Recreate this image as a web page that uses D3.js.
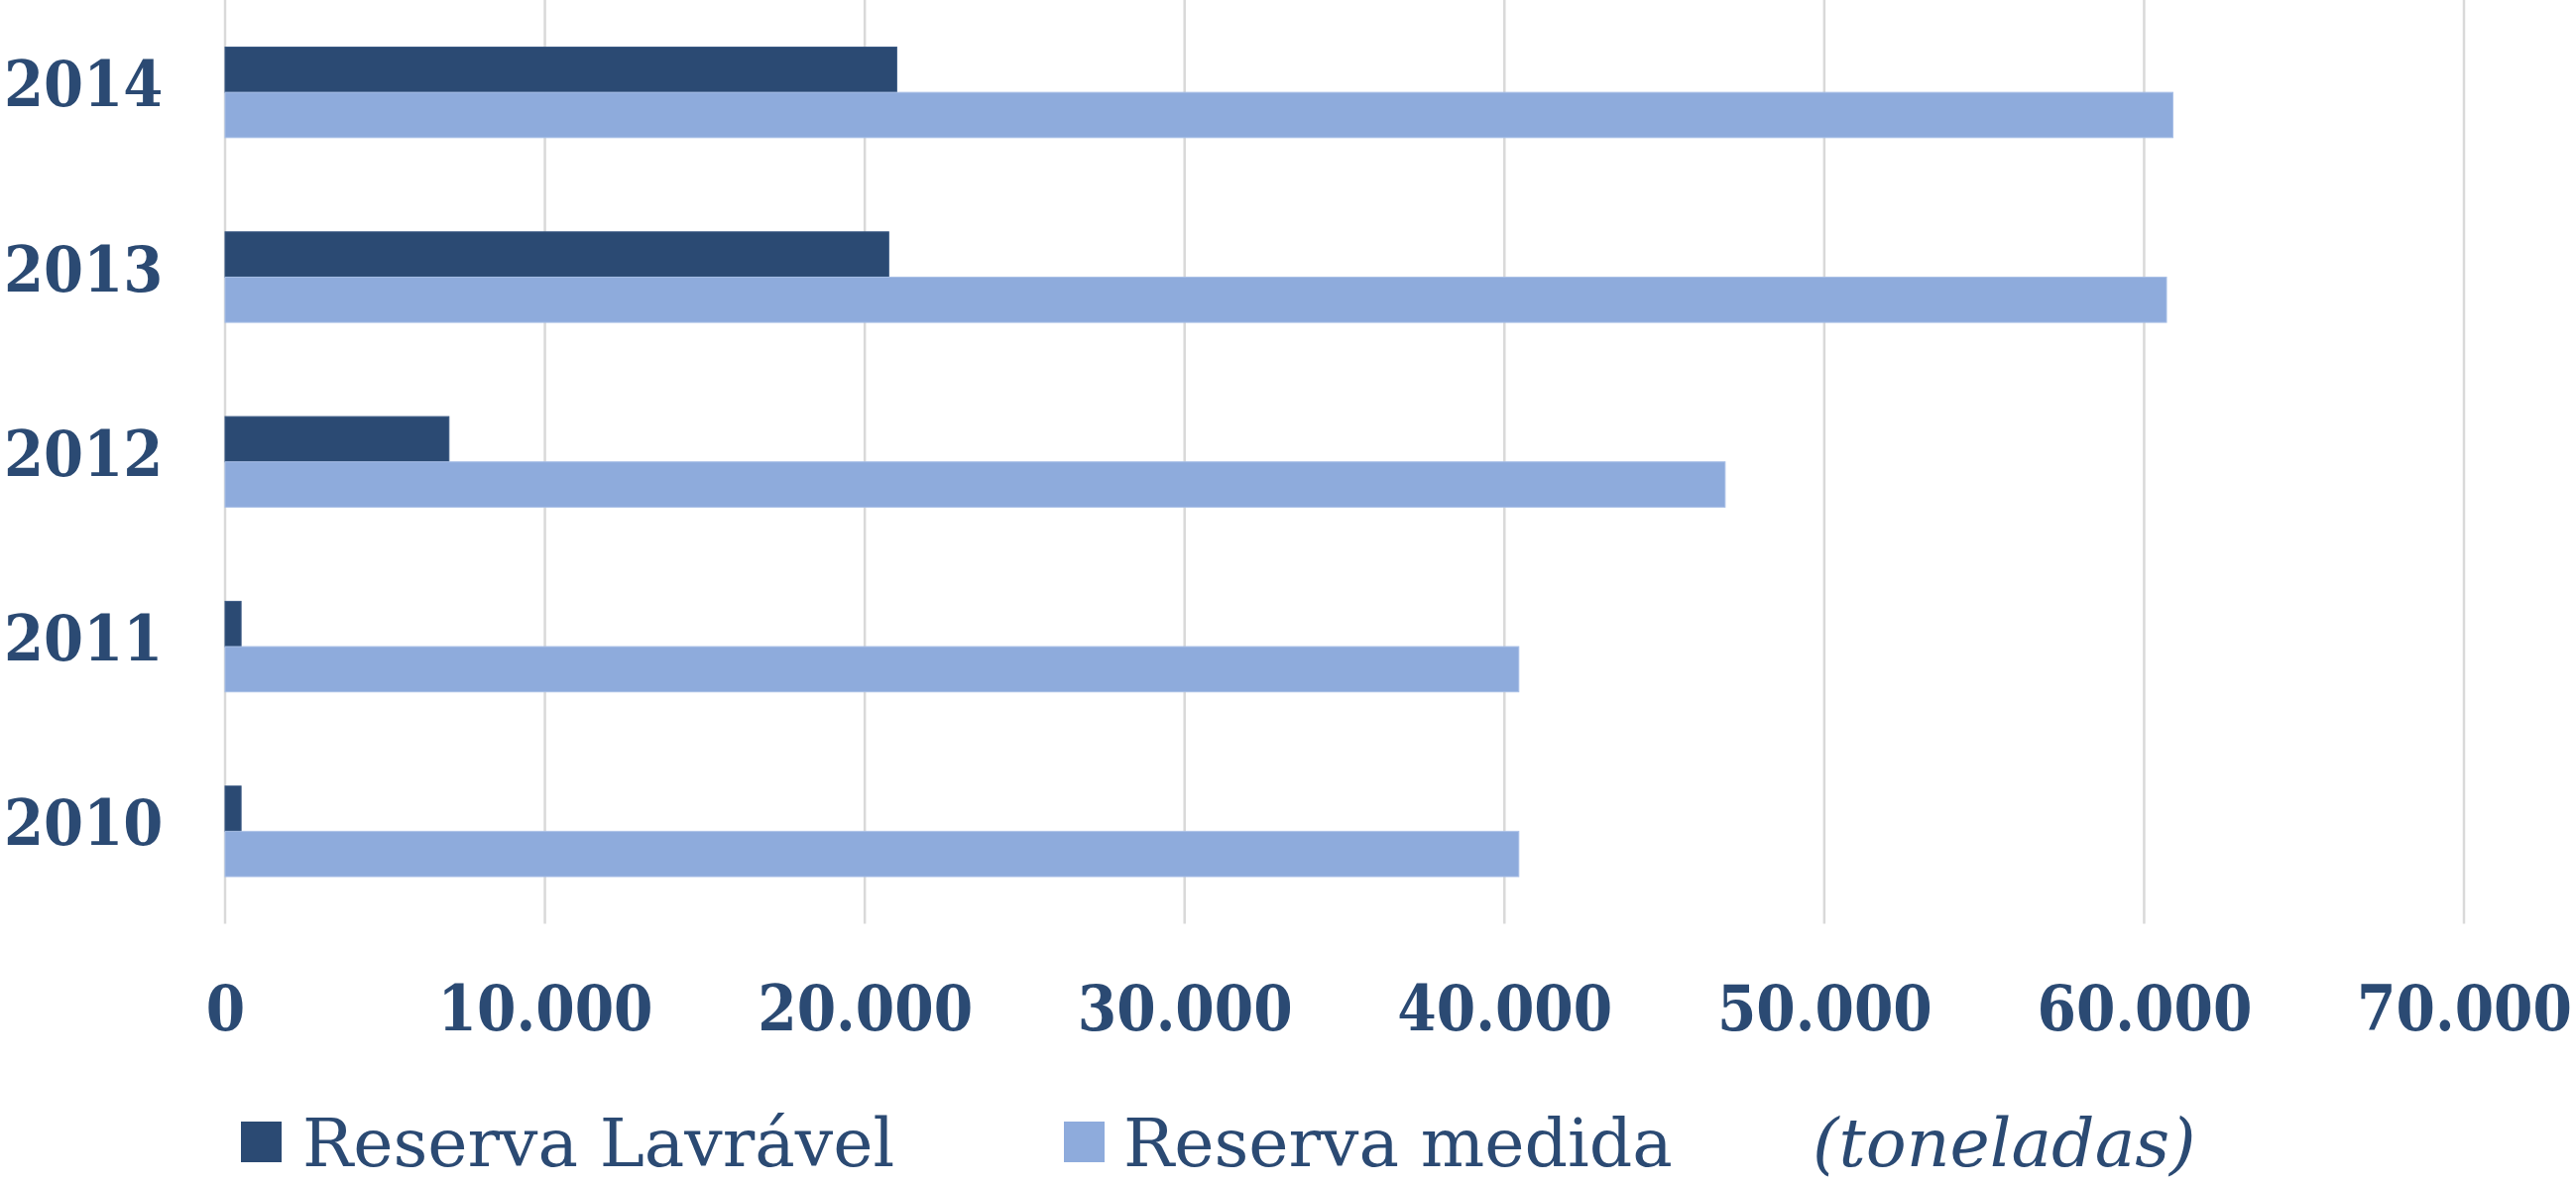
<!DOCTYPE html>
<html>
<head>
<meta charset="utf-8">
<script src="https://cdn.jsdelivr.net/npm/d3@7"></script>
<style>
  html, body { margin: 0; padding: 0; background: #ffffff; }
  svg { display: block; }
</style>
</head>
<body>
<svg id="chart" width="2598" height="1198"></svg>
<script>
// ---- Data ----
const years = ["2014", "2013", "2012", "2011", "2010"];
const reservaLavravel = [21000, 20750, 7000, 500, 500];
const reservaMedida = [60900, 60700, 46900, 40450, 40450];
const seriesNames = ["Reserva Lavrável", "Reserva medida"];
const xTickValues = [0, 10000, 20000, 30000, 40000, 50000, 60000, 70000];
const unitLabel = "(toneladas)";

// ---- Styles ----
const darkBlue = "#2b4a73";
const lightBlue = "#8eabdc";
const textColor = "#2b4a73";
const gridColor = "#d9d9d9";
const boldFont = "'DejaVu Serif Condensed', 'DejaVu Serif', serif";

const svg = d3.select("#chart");

const plotTop = 0, plotBottom = 931.5;
const x = d3.scaleLinear().domain([0, 70000]).range([227, 2485]);
const y = d3.scaleBand().domain(years).range([plotTop, plotBottom])
  .paddingInner(0.51).paddingOuter(0.255);
const ySub = d3.scaleBand().domain(seriesNames).range([0, y.bandwidth()]);
const color = d3.scaleOrdinal().domain(seriesNames).range([darkBlue, lightBlue]);

const ptBR = d3.formatLocale({ decimal: ",", thousands: ".", grouping: [3], currency: ["R$", ""] });
const fmt = ptBR.format(",");

// gridlines
svg.append("g").selectAll("line").data(xTickValues).join("line")
  .attr("x1", d => x(d)).attr("x2", d => x(d))
  .attr("y1", plotTop).attr("y2", plotBottom)
  .attr("stroke", gridColor).attr("stroke-width", 2.5);

// bars
const rows = years.map((yr, i) => ({ year: yr, values: [
  { key: seriesNames[0], value: reservaLavravel[i] },
  { key: seriesNames[1], value: reservaMedida[i] }
]}));

svg.append("g").selectAll("g").data(rows).join("g")
  .attr("transform", d => `translate(0,${y(d.year)})`)
  .selectAll("rect").data(d => d.values).join("rect")
  .attr("x", x(0))
  .attr("y", d => ySub(d.key))
  .attr("width", d => x(d.value) - x(0))
  .attr("height", ySub.bandwidth())
  .attr("fill", d => color(d.key))
  .attr("stroke", d => d.key === seriesNames[0] ? "#3b5a84" : "#a8bfe6")
  .attr("stroke-width", 1);

// y axis (year labels, left-aligned near the page edge)
const yAxis = svg.append("g").attr("transform", `translate(${x(0)},0)`)
  .call(d3.axisLeft(y).tickSize(0));
yAxis.select(".domain").remove();
yAxis.selectAll("text")
  .attr("text-anchor", "start")
  .attr("x", 4 - x(0))
  .attr("dy", "0.22em")
  .attr("fill", textColor)
  .style("font-family", boldFont)
  .style("font-stretch", "condensed")
  .style("font-weight", "bold")
  .style("font-size", "64px");

// x axis (tick labels)
const xAxis = svg.append("g").attr("transform", `translate(0,${plotBottom})`)
  .call(d3.axisBottom(x).tickValues(xTickValues).tickFormat(fmt).tickSize(0).tickPadding(63));
xAxis.select(".domain").remove();
xAxis.selectAll("text")
  .attr("fill", textColor)
  .style("font-family", boldFont)
  .style("font-stretch", "condensed")
  .style("font-weight", "bold")
  .style("font-size", "63px");

// legend
const legendItems = [
  { name: seriesNames[0], sx: 243, tx: 305 },
  { name: seriesNames[1], sx: 1073, tx: 1133 }
];
const lg = svg.append("g");
lg.selectAll("rect").data(legendItems).join("rect")
  .attr("x", d => d.sx).attr("y", 1131).attr("width", 41).attr("height", 41)
  .attr("fill", d => color(d.name));
lg.selectAll("text").data(legendItems).join("text")
  .attr("x", d => d.tx).attr("y", 1176)
  .attr("fill", textColor)
  .style("font-family", "'DejaVu Serif', serif")
  .style("font-size", "68px")
  .text(d => d.name);

svg.append("text")
  .attr("x", 1828).attr("y", 1176)
  .attr("fill", textColor)
  .style("font-family", "'DejaVu Serif', serif")
  .style("font-style", "italic")
  .style("font-size", "68px")
  .text(unitLabel);
</script>
</body>
</html>
